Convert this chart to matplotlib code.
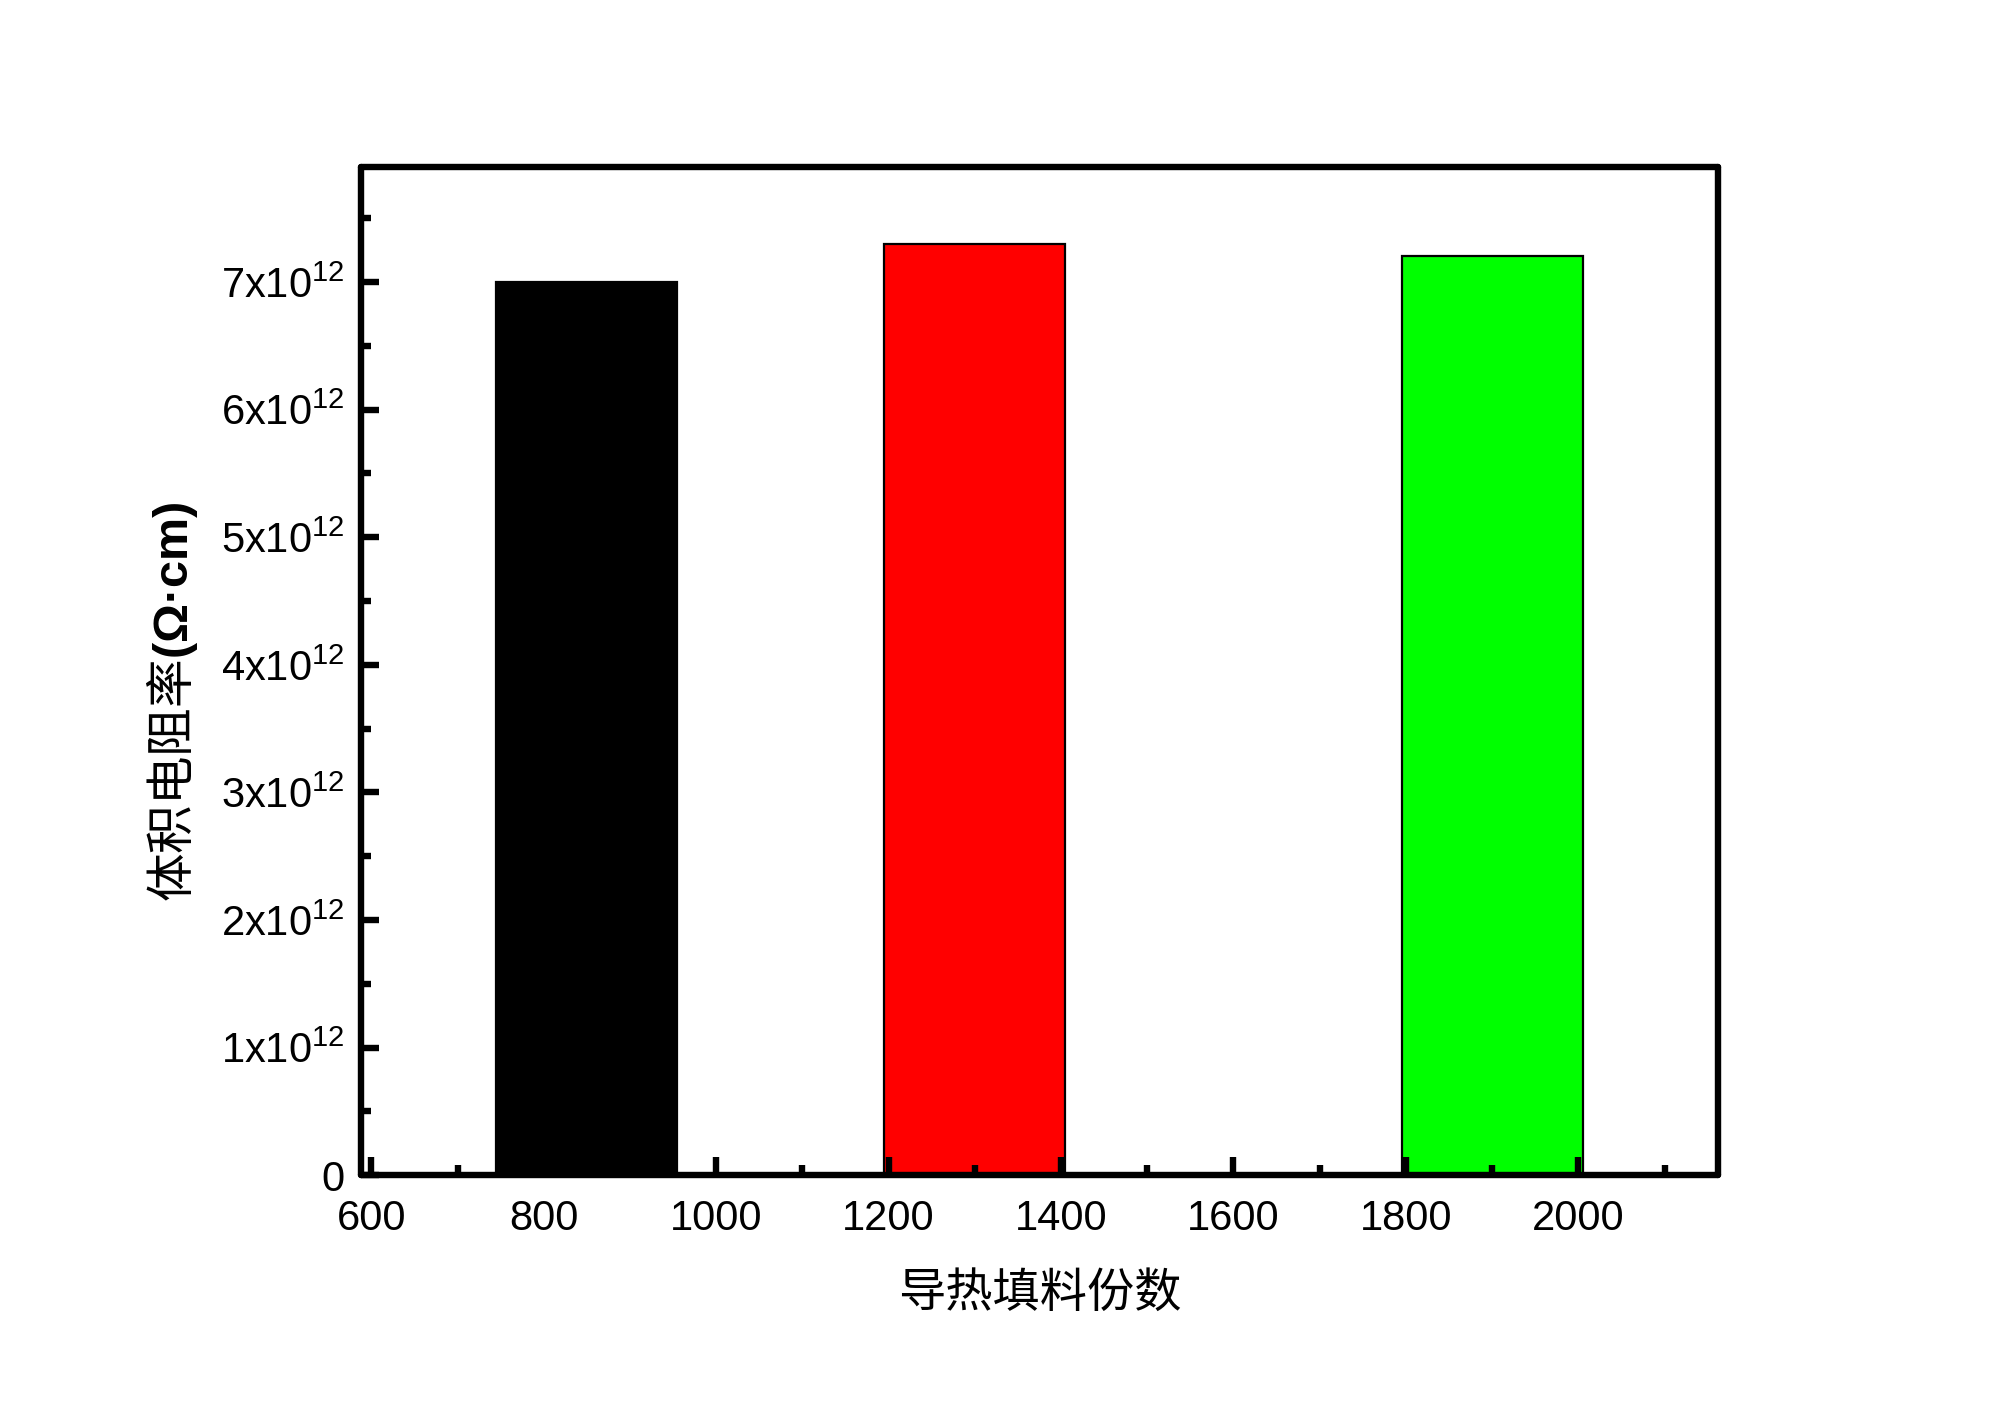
import matplotlib
matplotlib.use("Agg")
import matplotlib.pyplot as plt
from matplotlib.ticker import MultipleLocator, FuncFormatter

plt.rcParams['font.family'] = ['Liberation Sans', 'Noto Sans CJK SC', 'DejaVu Sans']
plt.rcParams['mathtext.fontset'] = 'custom'
plt.rcParams['mathtext.rm'] = 'Liberation Sans'
plt.rcParams['mathtext.bf'] = 'Liberation Sans:bold'
plt.rcParams['mathtext.it'] = 'Liberation Sans:italic'

# data
fill_parts = [850, 1300, 1900]
resistivity = [7.0e12, 7.3e12, 7.2e12]
bar_colors = ['#000000', '#ff0000', '#00ff00']
xlabel = '导热填料份数'
ylabel = '体积电阻率' + r'$\mathbf{(Ω·cm)}$'

fig = plt.figure(figsize=(10, 7.08), dpi=200)
ax = fig.add_axes([0.1805, 0.170, 0.859 - 0.1805, 0.882 - 0.170])

ax.bar(fill_parts, resistivity, width=210, color=bar_colors,
       edgecolor='black', linewidth=0.8, zorder=1)

ax.set_xlim(588, 2162)
ax.set_ylim(0, 7.9e12)

ax.xaxis.set_major_locator(MultipleLocator(200))
ax.xaxis.set_minor_locator(MultipleLocator(100))
ax.yaxis.set_major_locator(MultipleLocator(1e12))
ax.yaxis.set_minor_locator(MultipleLocator(0.5e12))

def yfmt(v, pos):
    n = int(round(v / 1e12))
    if n == 0:
        return '0'
    return r'$\mathregular{%dx10^{12}}$' % n

ax.yaxis.set_major_formatter(FuncFormatter(yfmt))

for s in ax.spines.values():
    s.set_linewidth(2.3)
    s.set_capstyle('round')

ax.tick_params(axis='both', which='both', direction='in', top=False, right=False,
               width=2.3, labelsize=15, zorder=3)
ax.tick_params(axis='both', which='major', length=6.5)
ax.tick_params(axis='both', which='minor', length=3.5)
ax.tick_params(axis='y', which='major', pad=6)
ax.tick_params(axis='x', which='major', pad=8.5)

ax.set_xlabel(xlabel, fontsize=17, family=['Noto Sans CJK SC', 'DejaVu Sans'], labelpad=11)
ax.set_ylabel(ylabel, fontsize=17.5, family=['Noto Sans CJK SC', 'DejaVu Sans'])
ax.yaxis.set_label_coords(-0.119, 0.47)

fig.savefig('out.png', dpi=200, facecolor='white')
